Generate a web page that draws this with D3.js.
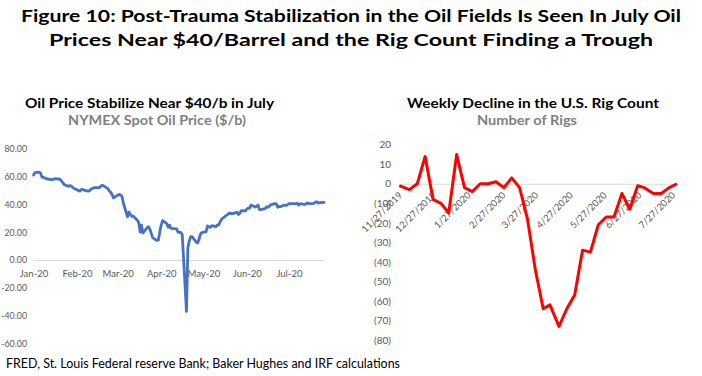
<!DOCTYPE html>
<html>
<head>
<meta charset="utf-8">
<script src="https://cdn.jsdelivr.net/npm/d3@7"></script>
<style>
  html, body { margin: 0; padding: 0; background: #fff; }
  svg { display: block; }
  text { font-family: Lato, "Open Sans", sans-serif; }
</style>
</head>
<body>
<svg id="chart" width="702" height="376"></svg>
<script>
// ---------------- DATA ----------------
const titleLines = [
  "Figure 10: Post-Trauma Stabilization in the Oil Fields Is Seen In July Oil",
  "Prices Near $40/Barrel and the Rig Count Finding a Trough"
];
const leftTitle = "Oil Price Stabilize Near $40/b in July";
const leftSubtitle = "NYMEX Spot Oil Price ($/b)";
const rightTitle = "Weekly Decline in the U.S. Rig Count";
const rightSubtitle = "Number of Rigs";
const sourceNote = "FRED, St. Louis Federal reserve Bank; Baker Hughes and IRF calculations";

// Daily WTI spot price (trading days), 2020
const oilDates = [
  "2020-01-02","2020-01-03","2020-01-06","2020-01-07","2020-01-08","2020-01-09","2020-01-10",
  "2020-01-13","2020-01-14","2020-01-15","2020-01-16","2020-01-17","2020-01-21","2020-01-22",
  "2020-01-23","2020-01-24","2020-01-27","2020-01-28","2020-01-29","2020-01-30","2020-01-31",
  "2020-02-03","2020-02-04","2020-02-05","2020-02-06","2020-02-07","2020-02-10","2020-02-11",
  "2020-02-12","2020-02-13","2020-02-14","2020-02-18","2020-02-19","2020-02-20","2020-02-21",
  "2020-02-24","2020-02-25","2020-02-26","2020-02-27","2020-02-28","2020-03-02","2020-03-03",
  "2020-03-04","2020-03-05","2020-03-06","2020-03-09","2020-03-10","2020-03-11","2020-03-12",
  "2020-03-13","2020-03-16","2020-03-17","2020-03-18","2020-03-19","2020-03-20","2020-03-23",
  "2020-03-24","2020-03-25","2020-03-26","2020-03-27","2020-03-30","2020-03-31","2020-04-01",
  "2020-04-02","2020-04-03","2020-04-06","2020-04-07","2020-04-08","2020-04-09","2020-04-13",
  "2020-04-14","2020-04-15","2020-04-16","2020-04-17","2020-04-20","2020-04-21","2020-04-22",
  "2020-04-23","2020-04-24","2020-04-27","2020-04-28","2020-04-29","2020-04-30","2020-05-01",
  "2020-05-04","2020-05-05","2020-05-06","2020-05-07","2020-05-08","2020-05-11","2020-05-12",
  "2020-05-13","2020-05-14","2020-05-15","2020-05-18","2020-05-19","2020-05-20","2020-05-21",
  "2020-05-22","2020-05-26","2020-05-27","2020-05-28","2020-05-29","2020-06-01","2020-06-02",
  "2020-06-03","2020-06-04","2020-06-05","2020-06-08","2020-06-09","2020-06-10","2020-06-11",
  "2020-06-12","2020-06-15","2020-06-16","2020-06-17","2020-06-18","2020-06-19","2020-06-22",
  "2020-06-23","2020-06-24","2020-06-25","2020-06-26","2020-06-29","2020-06-30","2020-07-01",
  "2020-07-02","2020-07-06","2020-07-07","2020-07-08","2020-07-09","2020-07-10","2020-07-13",
  "2020-07-14","2020-07-15","2020-07-16","2020-07-17","2020-07-20","2020-07-21","2020-07-22",
  "2020-07-23","2020-07-24","2020-07-27"
];
const oilPrices = [
  61.2, 63.0, 63.3, 62.7, 59.7, 59.6, 59.0,
  58.1, 58.2, 57.8, 58.1, 58.6, 58.2, 56.8,
  55.6, 54.2, 53.1, 53.6, 53.3, 52.2, 51.6,
  50.1, 49.6, 50.8, 50.9, 50.3, 49.6, 50.0,
  51.2, 51.4, 52.1, 52.1, 53.3, 53.8, 53.4,
  51.4, 49.8, 48.8, 47.2, 44.8, 46.8, 47.2,
  46.8, 45.9, 41.1, 31.1, 34.5, 33.0, 31.5,
  31.7, 28.7, 26.9, 20.1, 25.1, 19.5, 23.3,
  24.0, 22.0, 19.0, 16.0, 14.1, 14.5, 20.3,
  25.3, 28.4, 26.2, 23.7, 25.1, 22.8, 22.4,
  20.1, 19.9, 19.9, 18.3, -37.0, 8.9, 13.6,
  16.9, 16.9, 12.8, 12.3, 15.1, 18.8, 19.8,
  20.4, 24.6, 24.0, 23.6, 24.7, 24.1, 25.3,
  25.3, 27.6, 29.4, 31.8, 32.5, 33.5, 33.9,
  33.3, 34.4, 32.8, 33.7, 35.5, 35.4, 36.8,
  37.3, 37.4, 39.6, 38.2, 38.9, 39.6, 36.3,
  36.3, 37.1, 38.4, 38.0, 38.7, 39.8, 40.7,
  40.5, 38.0, 38.7, 38.5, 39.7, 39.3, 39.8,
  40.7, 40.6, 40.6, 40.9, 39.6, 40.6, 40.1,
  40.3, 41.2, 40.8, 40.6, 40.8, 41.9, 41.9,
  41.0, 41.3, 41.6
];
const oilYTicks = [-60, -40, -20, 0, 20, 40, 60, 80];
const oilXTicks = ["2020-01-02","2020-02-02","2020-03-02","2020-04-02","2020-05-02","2020-06-02","2020-07-02"];

// Weekly change in U.S. rig count
const rigDates = [
  "2019-11-27","2019-12-06","2019-12-13","2019-12-20","2019-12-27",
  "2020-01-03","2020-01-10","2020-01-17","2020-01-24","2020-01-31",
  "2020-02-07","2020-02-14","2020-02-21","2020-02-28",
  "2020-03-06","2020-03-13","2020-03-20","2020-03-27",
  "2020-04-03","2020-04-09","2020-04-17","2020-04-24",
  "2020-05-01","2020-05-08","2020-05-15","2020-05-22","2020-05-29",
  "2020-06-05","2020-06-12","2020-06-19","2020-06-26",
  "2020-07-02","2020-07-10","2020-07-17","2020-07-24","2020-07-31"
];
const rigChange = [
  -1, -3, 0, 14, -8,
  -10, -15, 15, -2, -4,
  0, 0, 1, -2,
  3, -2, -18, -44,
  -64, -62, -73, -64,
  -57, -34, -35, -21, -17,
  -17, -5, -13, -1,
  -2, -5, -5, -2, 0
];
const rigYTicks = [-80, -70, -60, -50, -40, -30, -20, -10, 0, 10, 20];
const rigXTicks = ["2019-11-27","2019-12-27","2020-01-27","2020-02-27","2020-03-27","2020-04-27","2020-05-27","2020-06-27","2020-07-27"];

// ---------------- DRAW ----------------
const parse = d3.timeParse("%Y-%m-%d");
const svg = d3.select("#chart");
const tickColor = "#595959";
const gridColor = "#d9d9d9";

// Main title
svg.append("text").attr("x", 351).attr("y", 22).attr("text-anchor", "middle")
  .attr("font-size", 17).attr("font-weight", 700).attr("fill", "#000")
  .attr("textLength", 660).attr("lengthAdjust", "spacingAndGlyphs")
  .text(titleLines[0]);
svg.append("text").attr("x", 351).attr("y", 46).attr("text-anchor", "middle")
  .attr("font-size", 17).attr("font-weight", 700).attr("fill", "#000")
  .attr("textLength", 604).attr("lengthAdjust", "spacingAndGlyphs")
  .text(titleLines[1]);

// Sub titles
svg.append("text").attr("x", 149.5).attr("y", 108).attr("text-anchor", "middle")
  .attr("font-size", 14).attr("font-weight", 700).attr("fill", "#000")
  .attr("textLength", 249).attr("lengthAdjust", "spacingAndGlyphs").text(leftTitle);
svg.append("text").attr("x", 157).attr("y", 125).attr("text-anchor", "middle")
  .attr("font-size", 13).attr("font-weight", 700).attr("fill", "#7f7f7f")
  .attr("textLength", 178).attr("lengthAdjust", "spacingAndGlyphs").text(leftSubtitle);
svg.append("text").attr("x", 533).attr("y", 108).attr("text-anchor", "middle")
  .attr("font-size", 14).attr("font-weight", 700).attr("fill", "#000")
  .attr("textLength", 252).attr("lengthAdjust", "spacingAndGlyphs").text(rightTitle);
svg.append("text").attr("x", 527).attr("y", 125).attr("text-anchor", "middle")
  .attr("font-size", 13).attr("font-weight", 700).attr("fill", "#7f7f7f")
  .attr("textLength", 100).attr("lengthAdjust", "spacingAndGlyphs").text(rightSubtitle);

// Source
svg.append("text").attr("x", 6).attr("y", 368)
  .attr("font-size", 12.5).attr("fill", "#000")
  .attr("textLength", 394).attr("lengthAdjust", "spacingAndGlyphs").text(sourceNote);

// ---------- Left chart: oil price ----------
const oilData = oilDates.map((d, i) => ({ date: parse(d), value: oilPrices[i] }));
const xOil = d3.scaleTime()
  .domain([parse(oilDates[0]), parse(oilDates[oilDates.length - 1])])
  .range([33.5, 324]);
const yOil = d3.scaleLinear().domain([-60, 80]).range([343.3, 149]);

const gOilY = svg.append("g").attr("transform", "translate(33,0)")
  .call(d3.axisLeft(yOil).tickValues(oilYTicks).tickSize(0).tickPadding(6)
    .tickFormat(d => (d < 0 ? "-" : "") + Math.abs(d).toFixed(2)));
gOilY.select(".domain").remove();
gOilY.selectAll("text").attr("font-family", "Lato, sans-serif").attr("font-size", 8.8).attr("fill", tickColor);

const gOilX = svg.append("g").attr("transform", `translate(0,${yOil(0)})`)
  .call(d3.axisBottom(xOil).tickValues(oilXTicks.map(parse)).tickSize(0).tickPadding(10)
    .tickFormat(d3.timeFormat("%b-%y")));
gOilX.select(".domain").attr("stroke", gridColor).attr("stroke-width", 1);
gOilX.selectAll("text").attr("font-family", "Lato, sans-serif").attr("font-size", 9.5).attr("fill", tickColor);

svg.append("path").datum(oilData)
  .attr("fill", "none").attr("stroke", "#4472C4").attr("stroke-width", 2.8)
  .attr("stroke-linejoin", "round").attr("stroke-linecap", "round")
  .attr("d", d3.line().x(d => xOil(d.date)).y(d => yOil(d.value)));

// ---------- Right chart: rig count ----------
const rigData = rigDates.map((d, i) => ({ date: parse(d), value: rigChange[i] }));
const xRig = d3.scaleTime()
  .domain([parse(rigDates[0]), parse(rigDates[rigDates.length - 1])])
  .range([399.3, 677]);
const yRig = d3.scaleLinear().domain([-80, 20]).range([340, 144.7]);

const gRigY = svg.append("g").attr("transform", "translate(399,0)")
  .call(d3.axisLeft(yRig).tickValues(rigYTicks).tickSize(0).tickPadding(8)
    .tickFormat(d => d < 0 ? `(${-d})` : `${d}`));
gRigY.select(".domain").remove();
gRigY.selectAll("text").attr("font-family", "Lato, sans-serif").attr("font-size", 10).attr("fill", tickColor);

const gRigX = svg.append("g").attr("transform", `translate(0,${yRig(0)})`)
  .call(d3.axisBottom(xRig).tickValues(rigXTicks.map(parse)).tickSize(0)
    .tickFormat(d3.timeFormat("%-m/%-d/%Y")));
gRigX.select(".domain").attr("stroke", gridColor).attr("stroke-width", 1);
gRigX.selectAll("text")
  .attr("font-family", "Lato, sans-serif").attr("font-size", 9.5).attr("fill", tickColor)
  .attr("text-anchor", "end").attr("y", 0).attr("dy", 0)
  .attr("transform", "translate(3,12) rotate(-45)");

svg.append("path").datum(rigData)
  .attr("fill", "none").attr("stroke", "#FF0000").attr("stroke-width", 3)
  .attr("stroke-linejoin", "round")
  .attr("d", d3.line().x(d => xRig(d.date)).y(d => yRig(d.value)));
</script>
</body>
</html>
